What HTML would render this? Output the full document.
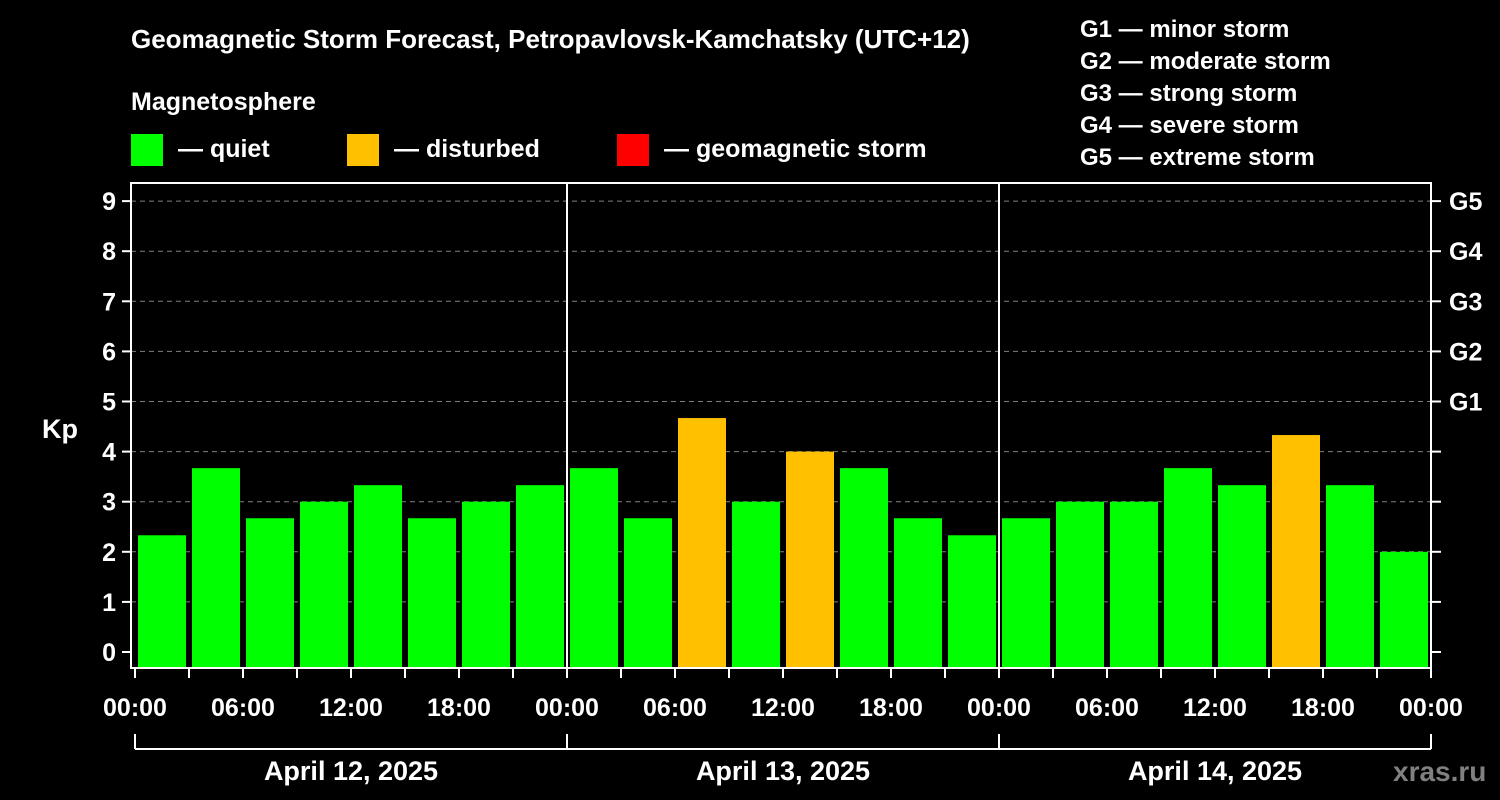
<!DOCTYPE html>
<html><head><meta charset="utf-8"><style>
html,body{margin:0;padding:0;background:#000;}
svg{display:block;font-family:"Liberation Sans",Arial,sans-serif;font-weight:bold;}
</style></head><body>
<svg id="chart" width="1500" height="800" viewBox="0 0 1500 800">
<rect width="1500" height="800" fill="#000"/>
<text x="131" y="48" fill="#fff" font-size="26">Geomagnetic Storm Forecast, Petropavlovsk-Kamchatsky (UTC+12)</text>
<text x="131" y="110" fill="#fff" font-size="25">Magnetosphere</text>
<g><rect x="131" y="134" width="32" height="32" fill="#00ff00"/><text x="178" y="157" fill="#fff" font-size="25">— quiet</text></g>
<g><rect x="347" y="134" width="32" height="32" fill="#ffc000"/><text x="394" y="157" fill="#fff" font-size="25">— disturbed</text></g>
<g><rect x="617" y="134" width="32" height="32" fill="#ff0000"/><text x="664" y="157" fill="#fff" font-size="25">— geomagnetic storm</text></g>
<g fill="#fff" font-size="24">
<text x="1080" y="37">G1 — minor storm</text>
<text x="1080" y="69">G2 — moderate storm</text>
<text x="1080" y="101">G3 — strong storm</text>
<text x="1080" y="133">G4 — severe storm</text>
<text x="1080" y="165">G5 — extreme storm</text>
</g>
<text x="42" y="438" fill="#fff" font-size="27">Kp</text>
<g id="grid"></g><g id="bars"></g><g id="axes"></g>
<text x="1393" y="781" fill="#808080" font-size="28">xras.ru</text>
</svg>
<script>
const days = ["April 12, 2025","April 13, 2025","April 14, 2025"];
const kpValues = [2.33,3.67,2.67,3,3.33,2.67,3,3.33, 3.67,2.67,4.67,3,4,3.67,2.67,2.33, 2.67,3,3,3.67,3.33,4.33,3.33,2];
const yTicks = [0,1,2,3,4,5,6,7,8,9];
const gLabels = ["G1","G2","G3","G4","G5"];
const xTickLabels = ["00:00","06:00","12:00","18:00"];
const NS="http://www.w3.org/2000/svg";
const L=131,R=1431,T=183,B=668,X0=135,slot=54;
const y=v=>652-v*50.1;
const x=i=>X0+i*slot;
function mk(tag,attrs,parent,text){const e=document.createElementNS(NS,tag);for(const k in attrs)e.setAttribute(k,attrs[k]);if(text!==undefined)e.textContent=text;document.getElementById(parent).appendChild(e);return e;}
yTicks.forEach(v=>{
 if(v>0){const g=mk('line',{x1:L,x2:R,y1:y(v),y2:y(v),stroke:'#808080','stroke-width':1,'stroke-dasharray':'5,4'},'grid');
 
 }
 const t=mk('text',{x:116,y:y(v)+9,fill:'#fff','font-size':25,'text-anchor':'end'},'axes',String(v));
 
 
 mk('line',{x1:122,x2:L,y1:y(v),y2:y(v),stroke:'#fff','stroke-width':2},'axes');
 mk('line',{x1:R,x2:R+10,y1:y(v),y2:y(v),stroke:'#fff','stroke-width':2},'axes');
});
gLabels.forEach((g,i)=>{
 const t=mk('text',{x:1449,y:y(5+i)+9,fill:'#fff','font-size':25},'axes',g);
 
 
});
kpValues.forEach((v,i)=>{
 const b=mk('rect',{x:x(i)+3,y:y(v),width:48,height:B-y(v),fill:v>=4?'#ffc000':'#00ff00'},'bars');
 
 
});
mk('rect',{x:L,y:T,width:R-L,height:B-T,fill:'none',stroke:'#fff','stroke-width':2},'axes');
for(let d=1;d<days.length;d++) mk('line',{x1:x(d*8),x2:x(d*8),y1:T,y2:B,stroke:'#fff','stroke-width':2},'axes');
for(let i=0;i<=kpValues.length;i++){
 mk('line',{x1:x(i),x2:x(i),y1:B,y2:B+10,stroke:'#fff','stroke-width':2},'axes');
 if(i%2===0){const t=mk('text',{x:x(i),y:716,fill:'#fff','font-size':25,'text-anchor':'middle'},'axes',xTickLabels[(i/2)%4]);
 
 }
}
mk('line',{x1:x(0),x2:x(kpValues.length),y1:749,y2:749,stroke:'#fff','stroke-width':2},'axes');
for(let d=0;d<=days.length;d++) mk('line',{x1:x(d*8),x2:x(d*8),y1:734,y2:749,stroke:'#fff','stroke-width':2},'axes');
days.forEach((d,i)=>{
 const t=mk('text',{x:x(i*8+4),y:780,fill:'#fff','font-size':27,'text-anchor':'middle'},'axes',d);
 
 
});
</script>
</body></html>
